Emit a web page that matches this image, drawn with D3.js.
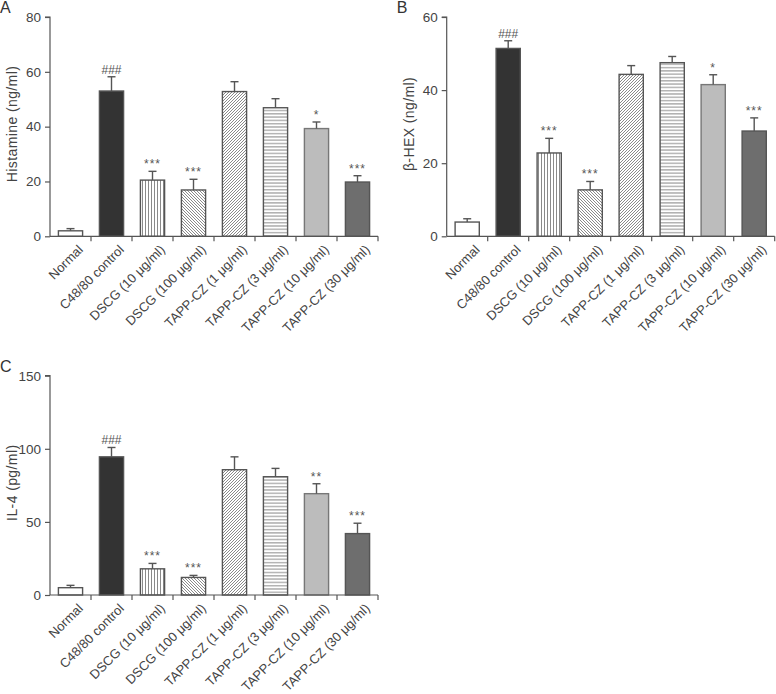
<!DOCTYPE html>
<html>
<head>
<meta charset="utf-8">
<script src="https://cdn.jsdelivr.net/npm/d3@7"></script>
<style>
  body { margin: 0; background: #fff; }
  svg text { font-family: "Liberation Sans", Arial, sans-serif; fill: #444; }
</style>
</head>
<body>
<svg id="fig" width="776" height="694"></svg>
<script>
// groups shared by all three panels
var groups = ["Normal", "C48/80 control", "DSCG (10 \u03bcg/ml)", "DSCG (100 \u03bcg/ml)",
  "TAPP-CZ (1 \u03bcg/ml)", "TAPP-CZ (3 \u03bcg/ml)", "TAPP-CZ (10 \u03bcg/ml)", "TAPP-CZ (30 \u03bcg/ml)"];

// panel A - histamine
var histMean = [2.0, 53.0, 20.5, 16.9, 52.8, 46.9, 39.3, 19.8];
var histErr  = [0.8, 5.2, 3.2, 3.9, 3.6, 3.3, 2.4, 2.3];
var histSig  = ["", "###", "***", "***", "", "", "*", "***"];
var histTicks = [0, 20, 40, 60, 80];

// panel B - beta-hexosaminidase
var hexMean = [3.9, 51.4, 22.8, 12.7, 44.3, 47.5, 41.5, 28.8];
var hexErr  = [0.9, 2.1, 4.0, 2.3, 2.4, 1.7, 2.7, 3.6];
var hexSig  = ["", "###", "***", "***", "", "", "*", "***"];
var hexTicks = [0, 20, 40, 60];

// panel C - IL-4
var il4Mean = [5.0, 94.5, 17.9, 12.0, 85.7, 80.9, 69.3, 42.0];
var il4Err  = [1.6, 6.4, 3.7, 1.4, 8.8, 5.7, 6.8, 7.1];
var il4Sig  = ["", "###", "***", "***", "", "", "**", "***"];
var il4Ticks = [0, 50, 100, 150];

var svg = d3.select("#fig");
var defs = svg.append("defs");

// hatch patterns
function hatch(id, size, lines) {
  var p = defs.append("pattern").attr("id", id)
    .attr("patternUnits", "userSpaceOnUse")
    .attr("width", size).attr("height", size);
  p.append("rect").attr("width", size).attr("height", size).attr("fill", "#fff");
  lines.forEach(function(l) {
    p.append("line").attr("x1", l[0]).attr("y1", l[1]).attr("x2", l[2]).attr("y2", l[3])
      .attr("stroke", "#8a8a8a").attr("stroke-width", 1);
  });
}
hatch("vert", 3, [[1.5, 0, 1.5, 3]]);
hatch("horiz", 3.3, [[0, 1.6, 3.3, 1.6]]);
hatch("back", 3, [[0, 0, 3, 3], [-1, 2, 1, 4], [2, -1, 4, 1]]);
hatch("fwd", 3, [[0, 3, 3, 0], [-1, 1, 1, -1], [2, 4, 4, 2]]);

var fills = ["#fff", "#333", "url(#vert)", "url(#back)", "url(#fwd)", "url(#horiz)", "#bcbcbc", "#6e6e6e"];

function drawPanel(o) {
  var g = svg.append("g");
  var x = d3.scaleBand().domain(groups).range([o.left, o.left + 328]).paddingInner(0.41).paddingOuter(0.205);
  var y = d3.scaleLinear().domain([0, o.ticks[o.ticks.length - 1]]).range([236.3 + o.top, 17 + o.top]);

  // bars
  g.selectAll("rect.bar").data(o.mean).enter().append("rect")
    .attr("x", function(d, i) { return x(groups[i]); })
    .attr("y", function(d) { return y(d); })
    .attr("width", x.bandwidth())
    .attr("height", function(d) { return y(0) - y(d); })
    .attr("fill", function(d, i) { return fills[i]; })
    .attr("stroke", function(d, i) { return i == 6 ? "#777" : "#555"; })
    .attr("stroke-width", 1.4);

  // error bars (upper only)
  o.mean.forEach(function(m, i) {
    var cx = x(groups[i]) + x.bandwidth() / 2;
    g.append("line").attr("x1", cx).attr("x2", cx).attr("y1", y(m)).attr("y2", y(m + o.err[i]))
      .attr("stroke", "#555").attr("stroke-width", 1.4);
    g.append("line").attr("x1", cx - 4).attr("x2", cx + 4).attr("y1", y(m + o.err[i])).attr("y2", y(m + o.err[i]))
      .attr("stroke", "#555").attr("stroke-width", 1.4);
    if (o.sig[i]) {
      g.append("text").attr("x", cx).attr("y", y(m + o.err[i]) - 3)
        .attr("text-anchor", "middle").style("font-size", "12px").style("fill", "#555")
        .style("letter-spacing", o.sig[i][0] == "*" ? "1px" : "0px")
        .text(o.sig[i]);
    }
  });

  // y axis
  var ya = g.append("g").attr("transform", "translate(" + o.left + ",0)")
    .call(d3.axisLeft(y).tickValues(o.ticks).tickSize(5).tickPadding(4));
  ya.selectAll("path, line").attr("stroke", "#555").attr("stroke-width", 1.2);
  ya.select(".domain").attr("d", "M-5," + y(o.ticks[o.ticks.length - 1]) + "H0V" + y(0));
  ya.selectAll("text").style("font-size", "13.5px").style("fill", "#444").style("font-family", "Liberation Sans, Arial");

  // x axis with ticks between bars
  var xa = g.append("g").attr("transform", "translate(0," + y(0) + ")");
  xa.append("line").attr("x1", o.left).attr("x2", o.left + 328).attr("stroke", "#555").attr("stroke-width", 1.2);
  d3.range(1, groups.length + 1).forEach(function(k) {
    var tx = o.left + k * 41;
    xa.append("line").attr("x1", tx).attr("x2", tx).attr("y1", 0).attr("y2", 5)
      .attr("stroke", "#555").attr("stroke-width", 1.2);
  });
  xa.selectAll("text.lab").data(groups).enter().append("text")
    .attr("transform", function(d) { return "translate(" + (x(d) + x.bandwidth() / 2 + 10) + ",11) rotate(-45)"; })
    .attr("text-anchor", "end").attr("dy", "0.35em")
    .style("font-size", "13px")
    .text(function(d) { return d; });

  // y title
  g.append("text")
    .attr("transform", "translate(" + (o.left - 33) + "," + (o.top + 124) + ") rotate(-90)")
    .attr("text-anchor", "middle").style("font-size", "14px").style("letter-spacing", "0.4px")
    .text(o.title);

  // panel letter
  g.append("text").attr("x", o.left - 50).attr("y", o.top + 13)
    .style("font-size", "16px").style("fill", "#333").text(o.letter);
}

drawPanel({ left: 50, top: 0, mean: histMean, err: histErr, sig: histSig, ticks: histTicks, title: "Histamine (ng/ml)", letter: "A" });
drawPanel({ left: 446.7, top: 0, mean: hexMean, err: hexErr, sig: hexSig, ticks: hexTicks, title: "\u03b2-HEX (ng/ml)", letter: "B" });
drawPanel({ left: 50, top: 358.7, mean: il4Mean, err: il4Err, sig: il4Sig, ticks: il4Ticks, title: "IL-4 (pg/ml)", letter: "C" });
</script>
</body>
</html>
